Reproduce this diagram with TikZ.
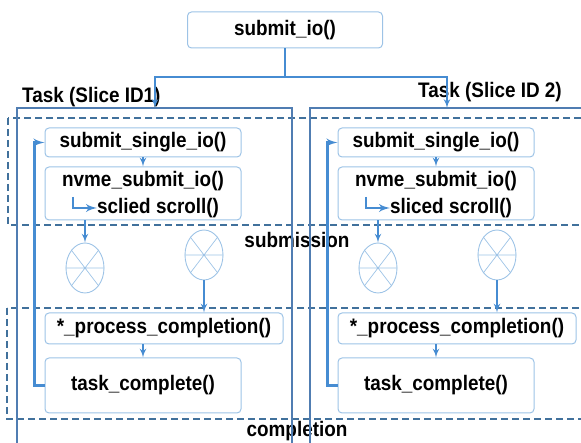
\documentclass[tikz,border=0pt]{standalone}
\usepackage{fontspec}
\setmainfont{Liberation Sans}[FakeStretch=0.9]
\usetikzlibrary{arrows}
\usetikzlibrary{shapes.geometric}
\definecolor{boxc}{RGB}{157,195,230}
\definecolor{flowc}{RGB}{70,140,210}
\definecolor{dashc}{RGB}{65,113,156}
\definecolor{framec}{RGB}{80,125,178}

\begin{document}
\begin{tikzpicture}[x=1pt,y=1pt,
  font=\bfseries\fontsize{21}{23}\selectfont,
  fbox/.style={draw=boxc,line width=1pt,rounded corners=4pt,shape=rectangle,inner sep=0pt},
  queue/.style={draw=boxc,line width=0.9pt,shape=ellipse,minimum width=38pt,minimum height=50pt,inner sep=0pt},
  spoke/.style={draw=boxc,line width=0.7pt},
  flow/.style={draw=flowc,line width=2pt,-latex'},
  loopline/.style={draw=flowc,line width=2.8pt,-latex'},
  region/.style={draw=dashc,line width=1.6pt,dash pattern=on 7pt off 4pt},
  frame/.style={draw=framec,line width=1.6pt}]
\useasboundingbox (0,0) rectangle (581,443);

% dashed regions
\draw[region] (8,325) rectangle (600,218);
\draw[region] (7,135) rectangle (600,24);
\node (sub) at (297,203) {submission};
\node (comp) at (297,12) {completion};

% task frames, open at the bottom
\draw[frame] (17,-5) -- (17,335) -- (292,335) -- (292,-5);
\draw[frame] (310,-5) -- (310,335) -- (590,335);
\coordinate (tinL) at (155,335);
\coordinate (tinR) at (447,335);
\node[anchor=west,inner sep=0pt] (taskL) at (22,346) {Task (Slice ID1)};
\node[anchor=west,inner sep=0pt] (taskR) at (418,351) {Task (Slice ID 2)};

\node[fbox,minimum width=195pt,minimum height=36pt] (io) at (285,413) {submit\_io()};
\draw[flow] (io.south) -- ++(0,-29) -| (tinL);
\draw[flow] (io.south) -- ++(0,-29) -| (tinR);

% slice 1
\node[fbox,minimum width=196pt,minimum height=29pt] (ssioL) at (143,300.5) {submit\_single\_io()};
\node[fbox,minimum width=196pt,minimum height=53pt] (nvmeL) at (143,249.5) {};
\node (callL) at (143,262) {nvme\_submit\_io()};
\node[anchor=west,inner sep=0pt] (scrollL) at (97,235) {sclied scroll()};
\coordinate (bendL) at (73,246);
\draw[loopline] (bendL) |- (scrollL.west);
\draw[flow] (ssioL) -- (nvmeL);
\node[queue] (q1L) at (85,175) {};
\node[queue] (q2L) at (204,188) {};
\draw[spoke] (q1L.west) -- (q1L.east) (q1L.north west) -- (q1L.south east) (q1L.north east) -- (q1L.south west);
\draw[spoke] (q2L.west) -- (q2L.east) (q2L.north west) -- (q2L.south east) (q2L.north east) -- (q2L.south west);
\draw[flow] (nvmeL.south -| q1L.north) -- (q1L.north);
\node[fbox,minimum width=238pt,minimum height=31pt] (procL) at (164,114.5) {*\_process\_completion()};
\draw[flow] (q2L.south) -- (q2L.south |- procL.north);
\node[fbox,minimum width=196pt,minimum height=55pt] (tcL) at (143,57.5) {task\_complete()};
\draw[flow] (procL.south -| tcL.north) -- (tcL.north);
\draw[loopline] (tcL.west) -- ++(-10,0) |- (ssioL.west);

% slice 2
\node[fbox,minimum width=196pt,minimum height=29pt] (ssioR) at (436,300.5) {submit\_single\_io()};
\node[fbox,minimum width=196pt,minimum height=53pt] (nvmeR) at (436,249.5) {};
\node (callR) at (436,262) {nvme\_submit\_io()};
\node[anchor=west,inner sep=0pt] (scrollR) at (390,235) {sliced scroll()};
\coordinate (bendR) at (366,246);
\draw[loopline] (bendR) |- (scrollR.west);
\draw[flow] (ssioR) -- (nvmeR);
\node[queue] (q1R) at (378,175) {};
\node[queue] (q2R) at (497,188) {};
\draw[spoke] (q1R.west) -- (q1R.east) (q1R.north west) -- (q1R.south east) (q1R.north east) -- (q1R.south west);
\draw[spoke] (q2R.west) -- (q2R.east) (q2R.north west) -- (q2R.south east) (q2R.north east) -- (q2R.south west);
\draw[flow] (nvmeR.south -| q1R.north) -- (q1R.north);
\node[fbox,minimum width=238pt,minimum height=31pt] (procR) at (457,114.5) {*\_process\_completion()};
\draw[flow] (q2R.south) -- (q2R.south |- procR.north);
\node[fbox,minimum width=196pt,minimum height=55pt] (tcR) at (436,57.5) {task\_complete()};
\draw[flow] (procR.south -| tcR.north) -- (tcR.north);
\draw[loopline] (tcR.west) -- ++(-10,0) |- (ssioR.west);

\end{tikzpicture}
\end{document}
